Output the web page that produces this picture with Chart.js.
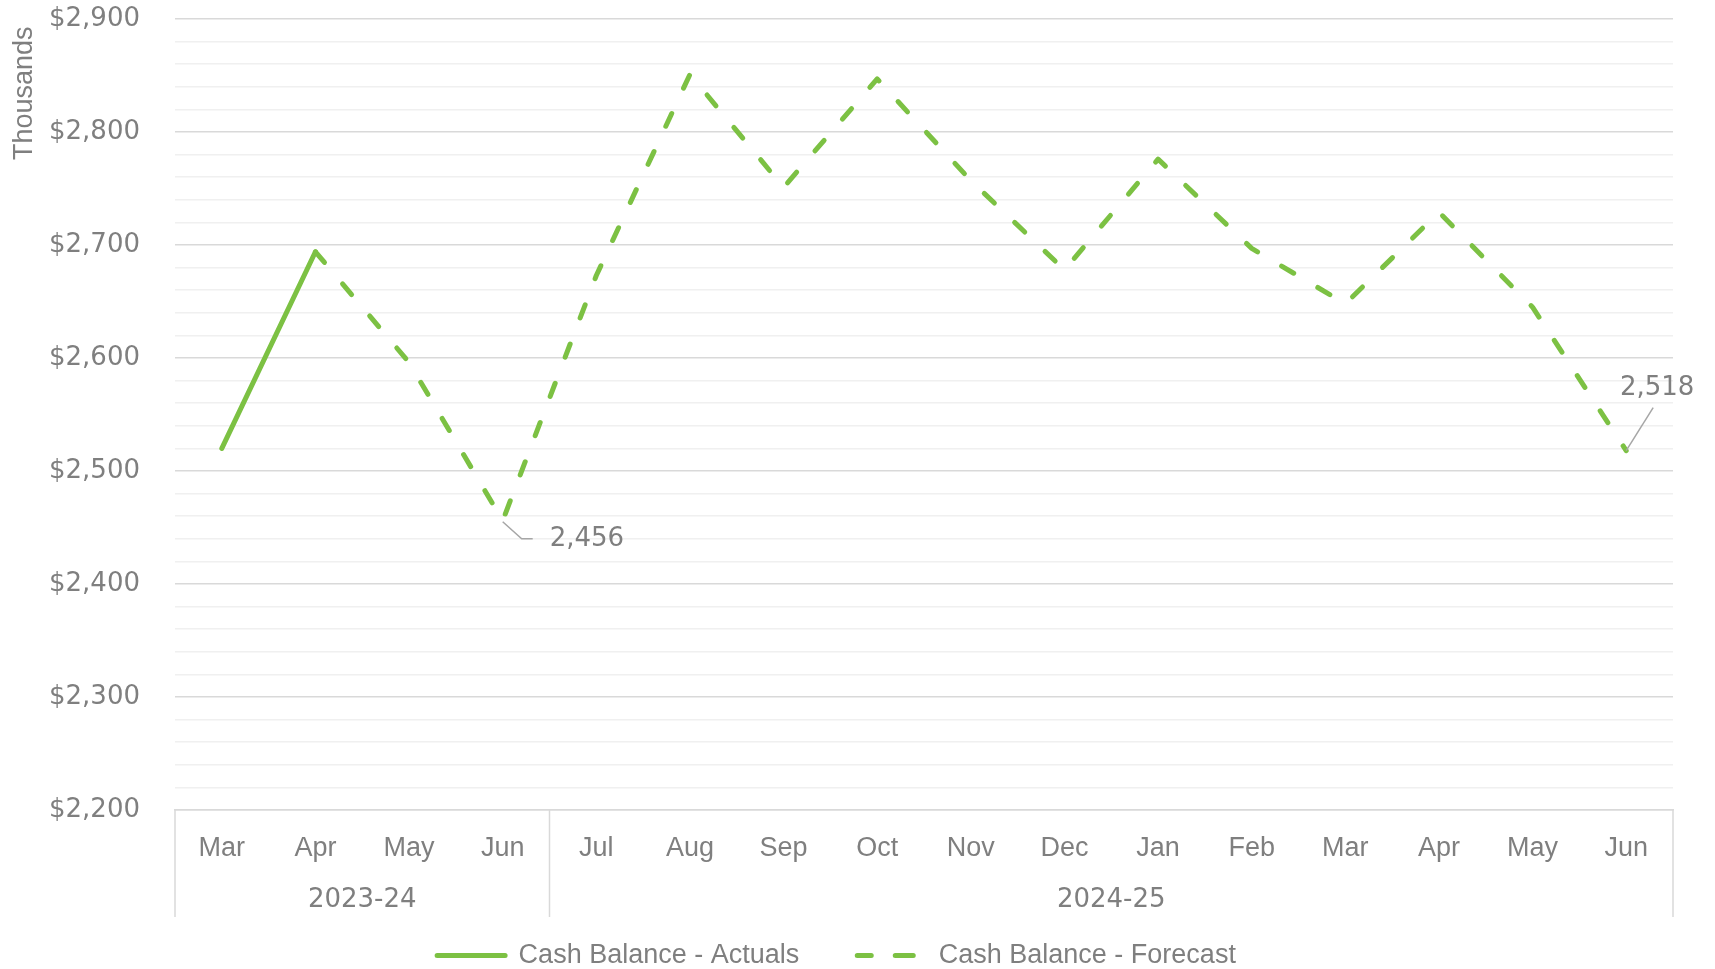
<!DOCTYPE html>
<html>
<head>
<meta charset="utf-8">
<title>Cash Balance</title>
<script src="https://cdn.jsdelivr.net/npm/chart.js@4/dist/chart.umd.min.js"></script>
<style>
  html, body { margin: 0; padding: 0; background: #fff; }
  canvas { display: block; }
</style>
</head>
<body>
<canvas id="cash-chart" width="1715" height="969"></canvas>
<script>
// data (thousands of $)
const MONTHS = ['Mar', 'Apr', 'May', 'Jun', 'Jul', 'Aug', 'Sep', 'Oct', 'Nov', 'Dec', 'Jan', 'Feb', 'Mar', 'Apr', 'May', 'Jun'];
const YEARS = ['2023-24', '2024-25'];
const YEAR_SPANS = [4, 12];
const ACTUALS = [2520, 2694, null, null, null, null, null, null, null, null, null, null, null, null, null, null];
const FORECAST = [null, 2694, 2596, 2456, 2673, 2851, 2751, 2847, 2757, 2678, 2776, 2697, 2648, 2729, 2645, 2518];
const Y_MIN = 2200, Y_MAX = 2900, Y_STEP = 20, Y_LABEL_STEP = 100;

const GREEN = '#7cc143';
const TEXT = '#7f7f7f';
const GRID_MAJOR = '#d9d9d9';
const GRID_MINOR = '#f0f0f0';
const FONT = 'Liberation Sans, Arial, sans-serif';
const NUM_FONT = 'DejaVu Sans, sans-serif';

// x axis second row (financial years) + the two value callouts
const groupsPlugin = {
    id: 'yearGroups',
    afterDraw(chart) {
        var ctx = chart.ctx,
            x = chart.scales.x,
            top = chart.chartArea.bottom,
            bottom = top + 107,
            start = 0;

        ctx.save();
        ctx.strokeStyle = GRID_MAJOR;
        ctx.lineWidth = 1.5;
        ctx.fillStyle = TEXT;
        ctx.font = '26px ' + NUM_FONT;
        ctx.textAlign = 'center';
        ctx.textBaseline = 'middle';

        for (let g = 0; g < YEARS.length; g++) {
            let end = start + YEAR_SPANS[g] - 1,
                left = start === 0 ? x.left : (x.getPixelForValue(start - 1) + x.getPixelForValue(start)) / 2,
                right = end === MONTHS.length - 1 ? x.right : (x.getPixelForValue(end) + x.getPixelForValue(end + 1)) / 2;

            ctx.beginPath();
            ctx.moveTo(left, top);
            ctx.lineTo(left, bottom);
            if (g === YEARS.length - 1) {
                ctx.moveTo(right, top);
                ctx.lineTo(right, bottom);
            }
            ctx.stroke();
            ctx.fillText(YEARS[g], (left + right) / 2, top + 90);
            start = end + 1;
        }

        // callouts
        var meta = chart.getDatasetMeta(1),
            lowPt = meta.data[3],
            endPt = meta.data[15];

        ctx.strokeStyle = '#a6a6a6';
        ctx.lineWidth = 1.5;

        ctx.beginPath();
        ctx.moveTo(lowPt.x, lowPt.y + 1);
        ctx.lineTo(lowPt.x + 19, lowPt.y + 18);
        ctx.lineTo(lowPt.x + 30, lowPt.y + 18);
        ctx.stroke();
        ctx.textAlign = 'left';
        ctx.fillText(FORECAST[3].toLocaleString('en-US'), lowPt.x + 47, lowPt.y + 19);

        ctx.beginPath();
        ctx.moveTo(endPt.x, endPt.y);
        ctx.lineTo(endPt.x + 27, endPt.y - 43);
        ctx.stroke();
        ctx.textAlign = 'center';
        ctx.fillText(FORECAST[15].toLocaleString('en-US'), endPt.x + 31, endPt.y - 62);
        ctx.restore();
    }
};

new Chart(document.getElementById('cash-chart'), {
    type: 'line',
    data: {
        labels: MONTHS,
        datasets: [{
            label: 'Cash Balance - Actuals',
            data: ACTUALS,
            borderColor: GREEN,
            backgroundColor: GREEN,
            borderWidth: 5,
            borderCapStyle: 'round',
            borderJoinStyle: 'round',
            pointRadius: 0,
            tension: 0,
            spanGaps: false
        }, {
            label: 'Cash Balance - Forecast',
            data: FORECAST,
            borderColor: GREEN,
            backgroundColor: GREEN,
            borderWidth: 5,
            borderDash: [14, 28],
            borderCapStyle: 'round',
            borderJoinStyle: 'round',
            pointRadius: 0,
            tension: 0
        }]
    },
    options: {
        responsive: false,
        animation: false,
        layout: { padding: { top: 19, right: 42, bottom: -10, left: 0 } },
        plugins: {
            tooltip: { enabled: false },
            legend: {
                position: 'bottom',
                labels: {
                    boxWidth: 68,
                    boxHeight: 0,
                    padding: 58,
                    color: TEXT,
                    font: { family: FONT, size: 27 }
                }
            }
        },
        scales: {
            x: {
                offset: true,
                grid: { display: false, drawTicks: false },
                border: { display: true, color: GRID_MAJOR, width: 1.5 },
                ticks: {
                    color: TEXT,
                    padding: 22,
                    autoSkip: false,
                    maxRotation: 0,
                    font: { family: FONT, size: 27 }
                },
                afterFit: function (scale) {
                    var legendH = scale.chart.legend ? scale.chart.legend.height : 0;
                    scale.height = 969 + 10 - legendH - 810;
                }
            },
            y: {
                min: Y_MIN,
                max: Y_MAX,
                border: { display: false },
                grid: {
                    drawTicks: true,
                    tickLength: 35,
                    tickColor: 'rgba(0,0,0,0)',
                    lineWidth: 1.5,
                    color: function (c) {
                        return c.tick && c.tick.value % Y_LABEL_STEP === 0 ? GRID_MAJOR : GRID_MINOR;
                    }
                },
                ticks: {
                    stepSize: Y_STEP,
                    autoSkip: false,
                    padding: 0,
                    color: TEXT,
                    font: { family: NUM_FONT, size: 26 },
                    callback: function (v) {
                        return v % Y_LABEL_STEP === 0 ? '$' + v.toLocaleString('en-US') : '';
                    }
                },
                title: {
                    display: true,
                    text: 'Thousands ',
                    align: 'end',
                    color: TEXT,
                    font: { family: FONT, size: 27 },
                    padding: { top: 8, bottom: 0 }
                },
                afterFit: function (scale) {
                    scale.width = 175;
                }
            }
        }
    },
    plugins: [groupsPlugin]
});
</script>
</body>
</html>
